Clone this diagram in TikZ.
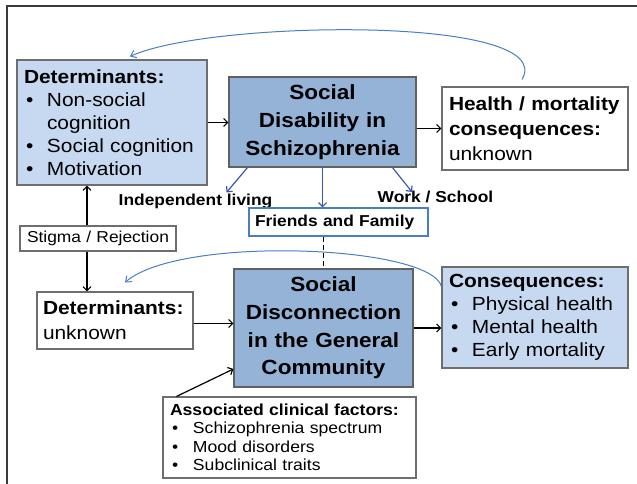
\documentclass[tikz,border=0pt]{standalone}
\usepackage{fontspec}
\setmainfont{Liberation Sans}[FakeStretch=1.1]
\usetikzlibrary{arrows.meta, positioning}

\definecolor{lightbox}{HTML}{C6D9F0}
\definecolor{darkbox}{HTML}{95B3D7}
\definecolor{linkblue}{HTML}{3A58B0}
\definecolor{curveblue}{HTML}{4A7EC4}
\definecolor{framegray}{HTML}{3A3A3A}
\definecolor{boxgray}{HTML}{6E6E6E}

\newcommand{\bul}{\makebox[23pt][l]{\hspace{2pt}•}}
\newcommand{\ind}{\hspace*{23pt}}

\begin{document}
\begin{tikzpicture}[
    x=1pt, y=-1pt,
    every node/.style={inner sep=0pt},
    box/.style={draw=boxgray, line width=1.1pt, inner xsep=7pt, inner ysep=0pt, anchor=center},
    bigbox/.style={box, fill=darkbox, draw=framegray!80, align=center, font=\bfseries\fontsize{20.5}{28}\selectfont},
    listbox/.style={box, align=left, font=\fontsize{19}{23}\selectfont},
    tag/.style={font=\bfseries\fontsize{15.8}{18}\selectfont},
    arr/.style={-{Straight Barb[length=4pt,width=8pt]}, line width=1.2pt, draw=black},
    bluearr/.style={arr, draw=linkblue},
    curvearr/.style={-{Straight Barb[length=5pt,width=8pt]}, line width=1pt, draw=curveblue}
  ]
  \useasboundingbox (0,0) rectangle (637,484);
  % frame of the slide
  \draw[framegray, line width=2pt] (637,6) -- (7,6) -- (7,484);

  % upper row: schizophrenia
  \node[listbox, fill=lightbox, text width=176pt, minimum height=125pt] (det1) at (112,122.5)
    {\textbf{Determinants:}\\ \bul Non-social\\ \ind cognition\\ \bul Social cognition\\ \bul Motivation};
  \node[bigbox, text width=173pt, minimum height=90pt] (sd) at (322.5,122)
    {Social\\ Disability in\\ Schizophrenia};
  \node[listbox, fill=white, text width=172pt, minimum height=83pt, font=\fontsize{19}{25}\selectfont] (health) at (535,128.5)
    {\textbf{Health / mortality}\\ \textbf{consequences:}\\ unknown};

  % domains of social disability
  \node[tag] (indep) at (195.5,201) {Independent living};
  \node[tag] (work) at (435.5,197) {Work / School};
  \node[box, tag, draw=curveblue, fill=white, inner xsep=6pt, text width=167pt, align=left, minimum height=28pt] (friends) at (338.5,222)
    {Friends and Family};

  \node[box, fill=white, text width=142pt, align=center, minimum height=25pt, font=\fontsize{15.8}{18}\selectfont] (stigma) at (98,238.5)
    {Stigma / Rejection};

  % lower row: general community
  \node[listbox, fill=white, inner xsep=6pt, text width=144pt, minimum height=57pt, font=\fontsize{19}{25}\selectfont] (det2) at (115,320.5)
    {\textbf{Determinants:}\\ unknown};
  \node[bigbox, text width=165pt, minimum height=118pt, font=\bfseries\fontsize{20.5}{27.7}\selectfont] (sdgc) at (323.5,328)
    {Social\\ Disconnection\\ in the General\\ Community};
  \node[listbox, fill=lightbox, text width=172pt, minimum height=101pt] (cons) at (535,317.5)
    {\textbf{Consequences:}\\ \bul Physical health\\ \bul Mental health\\ \bul Early mortality};
  \node[listbox, fill=white, text width=239pt, minimum height=81pt, font=\fontsize{16}{18.5}\selectfont] (clin) at (289.5,437.5)
    {\textbf{Associated clinical factors:}\\ \bul Schizophrenia spectrum\\ \bul Mood disorders\\ \bul Subclinical traits};

  % black arrows
  \draw[arr] (det1.east) -- (det1.east -| sd.west);
  \draw[arr] (sd.east |- health.west) -- (health.west);
  \draw[arr] ([yshift=-3pt]det2.east) -- ([yshift=-3pt]det2.east -| sdgc.west);
  \draw[arr] (sdgc.east) -- (sdgc.east -| cons.west);
  \draw[arr] ([xshift=-11pt]stigma.north) -- ([xshift=-11pt]stigma.north |- det1.south);
  \draw[arr] ([xshift=-11pt]stigma.south) -- ([xshift=-11pt]stigma.south |- det2.north);
  \draw[arr] ([xshift=14pt]clin.north west) -- ([yshift=-41pt]sdgc.west);

  % blue arrows out of social disability
  \draw[bluearr] ([xshift=-75pt]sd.south) -- ([xshift=31pt,yshift=1pt]indep.north);
  \draw[bluearr] (sd.south) -- (sd.south |- friends.north);
  \draw[bluearr] ([xshift=70pt]sd.south) -- ([xshift=-23.5pt,yshift=-1pt]work.north);
  \draw[dash pattern=on 5pt off 3pt, line width=1.2pt] (sdgc.north |- friends.south) -- (sdgc.north);

  % feedback curves
  \draw[curvearr] ([xshift=-13pt,yshift=7pt]health.north) .. controls (560,15) and (210,20) .. ([xshift=18pt,yshift=3pt]det1.north);
  \draw[curvearr] ([yshift=-20pt]cons.north west) .. controls (430,245) and (180,235) .. ([xshift=10pt,yshift=9pt]det2.north);
\end{tikzpicture}
\end{document}
